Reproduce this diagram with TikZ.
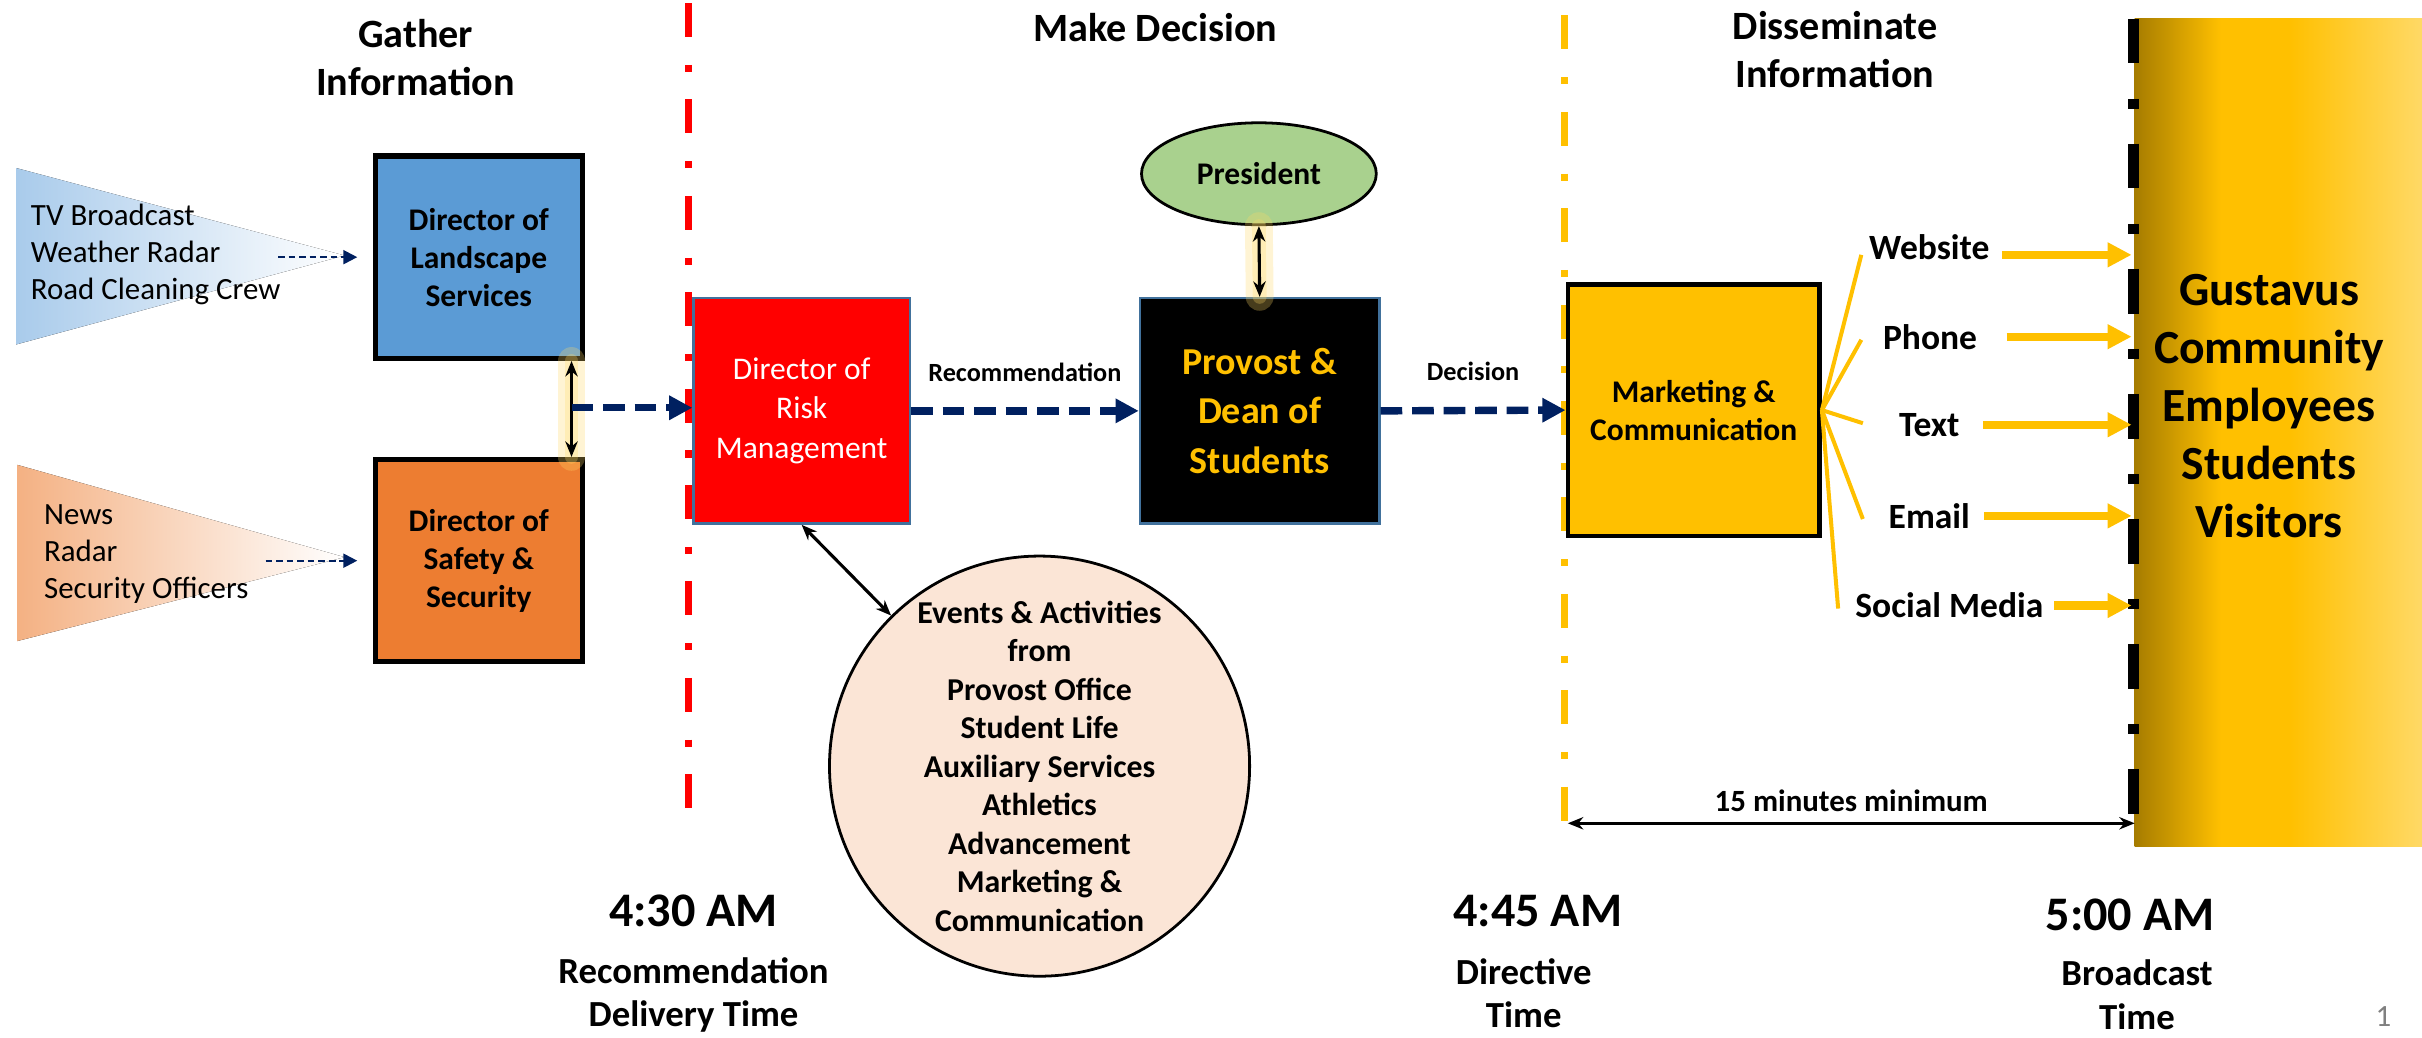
\documentclass[tikz,border=0pt]{standalone}
\usepackage{fontspec}
\setmainfont{Carlito}
\usetikzlibrary{arrows.meta, shapes.geometric}

\definecolor{navyArrow}{HTML}{002060}
\definecolor{landBlue}{HTML}{5B9BD5}
\definecolor{safeOrange}{HTML}{ED7D31}
\definecolor{presGreen}{HTML}{A9D18E}
\definecolor{gold}{HTML}{FFC000}
\definecolor{goldDark}{HTML}{A67C00}
\definecolor{goldLight}{HTML}{FFD966}
\definecolor{peach}{HTML}{FBE5D6}
\definecolor{edgeBlue}{HTML}{41719C}
\definecolor{skyFade}{HTML}{A9CBEB}
\definecolor{sandFade}{HTML}{F4B183}
\definecolor{glow}{HTML}{FFD966}

\pgfdeclarehorizontalshading{goldfade}{100bp}{color(0bp)=(goldDark); color(25bp)=(goldDark); color(40bp)=(gold); color(52bp)=(gold); color(75bp)=(goldLight); color(100bp)=(goldLight)}

\newcommand{\setfs}[2]{\fontsize{#1}{#2}\selectfont}

\begin{document}
\begin{tikzpicture}
    [
        x=0.5pt, y=-0.5pt,
        phasetitle/.style={font=\bfseries\setfs{13}{15.5}, align=center},
        srctext/.style={anchor=west, align=left, font=\setfs{10}{12}},
        dirbox/.style={rectangle, draw=black, line width=1.7pt, minimum width=67pt, minimum height=65.5pt, inner sep=0pt, align=center, font=\bfseries\setfs{10.2}{12.3}},
        riskbox/.style={rectangle, draw=edgeBlue, fill=red, line width=0.8pt, minimum width=70pt, minimum height=73pt, inner sep=0pt, align=center, text=white, font=\setfs{10.2}{12.9}},
        provbox/.style={rectangle, draw=edgeBlue, fill=black, line width=0.8pt, minimum width=77.5pt, minimum height=73pt, inner sep=0pt, align=center, text=gold, font=\bfseries\setfs{12.3}{16}},
        mktbox/.style={rectangle, draw=black, fill=gold, line width=1.5pt, minimum width=81.5pt, minimum height=81.5pt, inner sep=0pt, align=center, font=\bfseries\setfs{10.2}{12.3}},
        presnode/.style={ellipse, draw=black, fill=presGreen, line width=0.9pt, minimum width=76pt, minimum height=33pt, inner sep=0pt, font=\bfseries\setfs{10.2}{12}},
        phase/.style={line width=2.3pt, dash pattern=on 11pt off 9pt on 2.3pt off 8.9pt},
        bcast/.style={line width=3.5pt, dash pattern=on 14.5pt off 11.5pt on 3.2pt off 11.3pt},
        flow/.style={-{Triangle[length=7.5pt, width=7.5pt]}, navyArrow, line width=2.4pt, dash pattern=on 7pt off 3.2pt},
        feed/.style={-{Triangle[length=4.5pt, width=4.5pt]}, navyArrow, line width=0.7pt, dash pattern=on 2.2pt off 1.2pt},
        linkarrow/.style={{Stealth[length=5pt, width=4pt]}-{Stealth[length=5pt, width=4pt]}, line width=1pt},
        halo/.style={line width=#1, glow, opacity=0.28, line cap=round},
        fan/.style={gold, line width=1.3pt},
        channel/.style={-{Triangle[length=7.8pt, width=7.6pt]}, gold, line width=2.6pt, shorten >=1pt},
        chanlabel/.style={font=\bfseries\setfs{11.5}{13}},
        edgelabel/.style={text=black, font=\bfseries\setfs{8.5}{10}},
        timelabel/.style={font=\bfseries\setfs{15.6}{18}},
        timedesc/.style={align=center, font=\bfseries\setfs{11.9}{14}},
    ]
        \useasboundingbox (0,0) rectangle (1568,672);

        \node[phasetitle] (gatherT) at (269,37.5) {Gather\\Information};
        \node[phasetitle] (decideT) at (748,18) {Make Decision};
        \node[phasetitle] (spreadT) at (1188,32) {Disseminate\\Information};

        \coordinate (recTop) at (446,2);
        \coordinate (recBot) at (446,540);
        \coordinate (dirTop) at (1012.6,10);
        \coordinate (dirBot) at (1012.6,548);
        \draw[phase, red] (recTop) -- (recBot);
        \draw[phase, gold] (dirTop) -- (dirBot);

        \node[shade, shading=goldfade, rectangle, minimum width=93pt, minimum height=268pt, inner sep=0pt, outer sep=0pt] (comm) at (1475,280) {};
        \draw[bcast] ([xshift=-0.3pt]comm.north west) -- ([xshift=-0.3pt]comm.south west);
        \node[align=center, font=\bfseries\setfs{15.4}{18.75}] (commTxt) at (1469,263) {Gustavus\\Community\\Employees\\Students\\Visitors};

        \fill[left color=skyFade, right color=white] (10.5,108.8) -- (10.5,223) -- (223,165.4) -- cycle;
        \fill[left color=sandFade, right color=white] (11.3,301) -- (11.3,415) -- (223,360.7) -- cycle;
        \node[srctext] (tvSrc) at (13,164.5) {TV Broadcast\\Weather Radar\\Road Cleaning Crew};
        \node[srctext] (newsSrc) at (21.5,358.5) {News\\Radar\\Security Officers};

        \node[dirbox, fill=landBlue] (land) at (310,166.5) {Director of\\Landscape\\Services};
        \node[dirbox, fill=safeOrange] (safe) at (310,363) {Director of\\Safety \&\\Security};
        \coordinate (tvIn) at (180,166.5);
        \coordinate (newsIn) at (172,363);
        \draw[feed, shorten >=5pt] (tvIn) -- (land.west);
        \draw[feed, shorten >=5pt] (newsIn) -- (safe.west);

        \node[riskbox] (risk) at (519,266) {Director of\\Risk\\Management};
        \node[provbox] (prov) at (815.5,266) {Provost \&\\Dean of\\Students};
        \node[presnode] (pres) at (815,112.5) {President};
        \node[mktbox] (mkt) at (1096.5,265.5) {Marketing \&\\Communication};
        \node[circle, draw=black, fill=peach, line width=0.9pt, minimum size=136pt, inner sep=0pt] (events) at (673,496) {};
        \node[align=center, font=\bfseries\setfs{10.3}{12.45}] (eventsTxt) at (events) {Events \& Activities\\from\\Provost Office\\Student Life\\Auxiliary Services\\Athletics\\Advancement\\Marketing \&\\Communication};

        \coordinate (merge) at (370,264);
        \draw[halo=9pt] (merge |- land.south) -- (merge |- safe.north);
        \draw[halo=4.5pt] (merge |- land.south) -- (merge |- safe.north);
        \draw[linkarrow] (merge |- land.south) -- (merge |- safe.north);
        \draw[flow] (merge) -- (merge -| risk.west);

        \draw[flow] (risk.east) -- (prov.west) node[midway, above=5pt, edgelabel] (recLbl) {Recommendation};
        \draw[flow] (prov.east) -- (mkt.west) node[midway, above=5pt, edgelabel] (decLbl) {Decision};

        \draw[halo=9pt] (pres.south) -- (prov.north);
        \draw[halo=4.5pt] (pres.south) -- (prov.north);
        \draw[linkarrow] (pres.south) -- (prov.north);
        \draw[linkarrow] (risk.south) -- (events);

        \node[chanlabel] (web) at (1249,160) {Website};
        \node[chanlabel] (phone) at (1249.5,218) {Phone};
        \node[chanlabel] (txt) at (1249,275) {Text};
        \node[chanlabel] (email) at (1249,334) {Email};
        \node[chanlabel] (social) at (1262,392) {Social Media};

        \coordinate (fWeb) at (1205,165);
        \coordinate (fPhone) at (1205,220);
        \coordinate (fText) at (1206,274);
        \coordinate (fEmail) at (1206,336);
        \coordinate (fSocial) at (1190,394);
        \foreach \f in {fWeb, fPhone, fText, fEmail, fSocial}
            \draw[fan] (mkt.east) -- (\f);

        \draw[channel, shorten <=0.5pt] ([yshift=-2.5pt]web.east) -- ([yshift=-2.5pt]web.east -| comm.west);
        \draw[channel, shorten <=6pt] (phone.east) -- (phone.east -| comm.west);
        \draw[channel, shorten <=4pt] (txt.east) -- (txt.east -| comm.west);
        \draw[channel, shorten <=1pt] (email.east) -- (email.east -| comm.west);
        \draw[channel] (social.east) -- (social.east -| comm.west);

        \coordinate (spanL) at (1015,533);
        \draw[linkarrow, line width=0.9pt] (spanL) -- (spanL -| comm.west) node[midway, above, font=\bfseries\setfs{10}{12}] (spanLbl) {15 minutes minimum};

        \node[timelabel] (t430) at (449,590) {4:30 AM};
        \node[timedesc] (d430) at (449,644) {Recommendation\\Delivery Time};
        \node[timelabel] (t445) at (995.5,590) {4:45 AM};
        \node[timedesc] (d445) at (986.5,643) {Directive\\Time};
        \node[timelabel] (t500) at (1379,592) {5:00 AM};
        \node[timedesc] (d500) at (1383.5,644) {Broadcast\\Time};
        \node[text=gray, font=\setfs{10}{12}] (pageNo) at (1543,658) {1};
    \end{tikzpicture}
\end{document}
